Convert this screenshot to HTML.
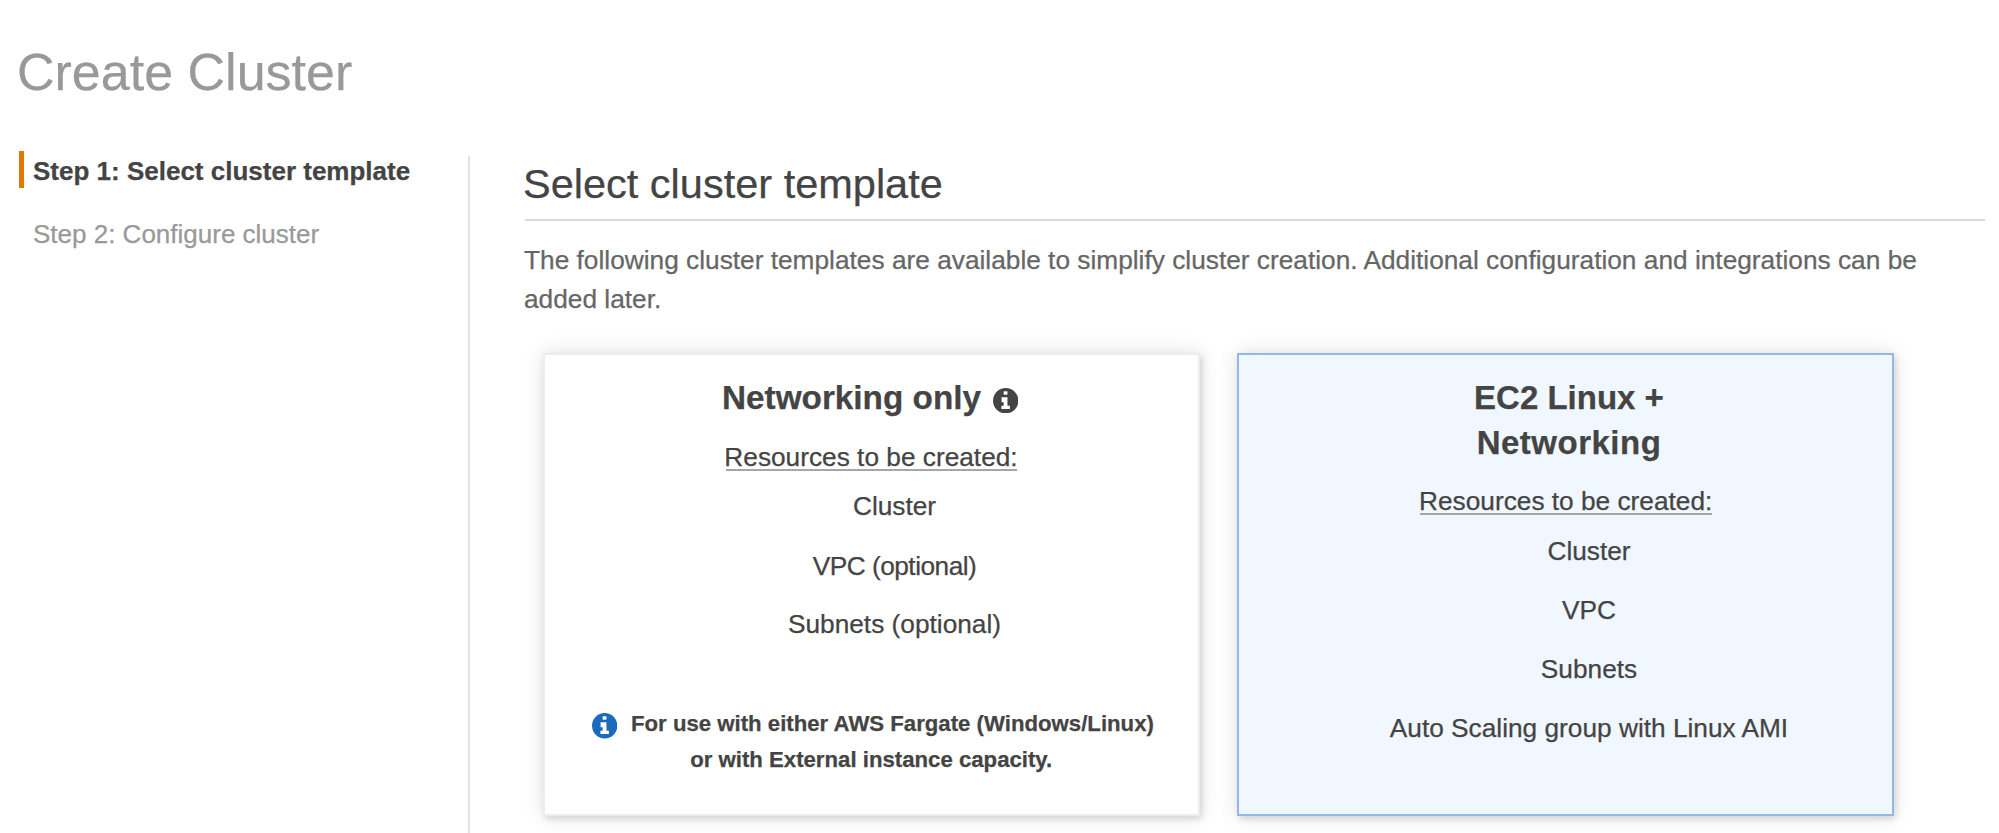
<!DOCTYPE html>
<html><head><meta charset="utf-8">
<style>
html,body{margin:0;padding:0;background:#fff;}
body{width:1999px;height:833px;position:relative;overflow:hidden;font-family:"Liberation Sans",sans-serif;color:#444;-webkit-text-stroke:0.25px currentColor;}
.t{position:absolute;white-space:nowrap;}
.c{position:absolute;white-space:nowrap;text-align:center;width:1000px;}
.card{position:absolute;box-sizing:border-box;}
</style></head>
<body>
<div class="t" id="title" style="left:17px;top:46px;font-size:52px;line-height:52px;color:#999;">Create Cluster</div>

<div style="position:absolute;left:19px;top:151px;width:5px;height:37px;background:#e27905;"></div>
<div class="t" id="step1" style="left:33px;top:157.6px;font-size:26px;line-height:26px;font-weight:bold;color:#444;">Step 1: Select cluster template</div>
<div class="t" id="step2" style="left:33px;top:220.8px;font-size:26px;line-height:26px;color:#999;">Step 2: Configure cluster</div>

<div style="position:absolute;left:467.5px;top:156px;width:2px;height:700px;background:#e2e2e2;"></div>

<div class="t" id="h2" style="left:523px;top:162.6px;font-size:41.5px;line-height:41.5px;color:#444;">Select cluster template</div>
<div style="position:absolute;left:525px;top:218.5px;width:1460px;height:2px;background:#d9d9d9;"></div>

<div class="t" id="para" style="left:524px;top:241px;font-size:26.27px;line-height:39px;color:#666;">The following cluster templates are available to simplify cluster creation. Additional configuration and integrations can be<br>added later.</div>

<!-- left card -->
<div class="card" style="left:543px;top:353px;width:657px;height:463px;background:#fff;border:2px solid #ededed;box-shadow:0 0 20px rgba(0,0,0,0.12),2px 3px 6px rgba(0,0,0,0.12);"></div>
<!-- right card -->
<div class="card" style="left:1237px;top:353px;width:657px;height:463px;background:#f0f7fe;border:2px solid #94b8e1;box-shadow:0 0 20px rgba(0,0,0,0.12),2px 3px 6px rgba(0,0,0,0.12);"></div>


<!-- left card content -->
<div class="c" style="left:351.5px;top:380.81px;font-size:33.3px;line-height:33.3px;font-weight:bold;width:1000px;">Networking only</div>
<svg style="position:absolute;left:993px;top:387.6px;" width="25.4" height="25.4" viewBox="0 0 26 26"><circle cx="13" cy="13" r="13" fill="#444"/><rect x="10.9" y="3.4" width="3.9" height="3.4" fill="#fff"/><path d="M8.8 9.5H14.8V18.3H17.3V21.6H8.6V18.3H10.9V14.5H8.8Z" fill="#fff"/></svg>
<div class="c" style="left:371px;top:443.97px;font-size:26.26px;line-height:26.26px;">Resources to be created:</div>
<div style="position:absolute;left:725.5px;top:469px;width:291.5px;height:2px;background:#a6a6a6;"></div>
<div class="c" style="left:394.5px;top:493.47px;font-size:26.26px;line-height:26.26px;">Cluster</div>
<div class="c" style="left:394.5px;top:552.77px;font-size:26.26px;line-height:26.26px;letter-spacing:-0.5px;">VPC (optional)</div>
<div class="c" style="left:394.5px;top:611.27px;font-size:26.26px;line-height:26.26px;">Subnets (optional)</div>
<svg style="position:absolute;left:592.1px;top:713.2px;" width="25.4" height="25.4" viewBox="0 0 26 26"><circle cx="13" cy="13" r="13" fill="#1a6bbd"/><rect x="10.9" y="3.4" width="3.9" height="3.4" fill="#fff"/><path d="M8.8 9.5H14.8V18.3H17.3V21.6H8.6V18.3H10.9V14.5H8.8Z" fill="#fff"/></svg>
<div class="t" style="left:631px;top:713.21px;font-size:22.2px;line-height:22.2px;font-weight:bold;">For use with either AWS Fargate (Windows/Linux)</div>
<div class="c" style="left:371.2px;top:749.21px;font-size:22.2px;line-height:22.2px;font-weight:bold;">or with External instance capacity.</div>

<!-- right card content -->
<div class="c" style="left:1069px;top:381.47px;font-size:33px;line-height:33px;font-weight:bold;">EC2 Linux +</div>
<div class="c" style="left:1069px;top:425.97px;font-size:33px;line-height:33px;font-weight:bold;letter-spacing:0.5px;">Networking</div>
<div class="c" style="left:1065.7px;top:487.97px;font-size:26.26px;line-height:26.26px;">Resources to be created:</div>
<div style="position:absolute;left:1420px;top:513px;width:291.5px;height:2px;background:#a6a6a6;"></div>
<div class="c" style="left:1089px;top:537.57px;font-size:26.26px;line-height:26.26px;">Cluster</div>
<div class="c" style="left:1089px;top:596.67px;font-size:26.26px;line-height:26.26px;">VPC</div>
<div class="c" style="left:1089px;top:656.37px;font-size:26.26px;line-height:26.26px;">Subnets</div>
<div class="c" style="left:1089px;top:714.77px;font-size:26.26px;line-height:26.26px;">Auto Scaling group with Linux AMI</div>

</body></html>
